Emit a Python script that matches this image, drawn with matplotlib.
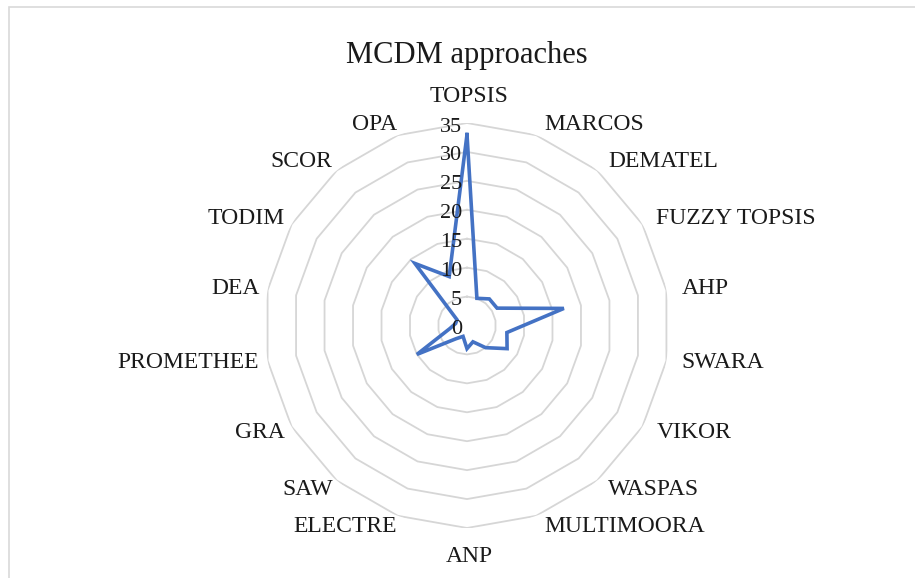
import numpy as np
import matplotlib
matplotlib.use('Agg')
import matplotlib.pyplot as plt
from matplotlib.patches import Rectangle

categories = ["TOPSIS", "MARCOS", "DEMATEL", "FUZZY TOPSIS", "AHP", "SWARA",
              "VIKOR", "WASPAS", "MULTIMOORA", "ANP", "ELECTRE", "SAW", "GRA",
              "PROMETHEE", "DEA", "TODIM", "SCOR", "OPA"]
values = [33, 5, 6, 6, 17, 7, 8, 5, 3, 4, 2, 3, 10, 3, 2, 2, 14, 9]
ring_levels = [0, 5, 10, 15, 20, 25, 30, 35]
title = "MCDM approaches"

plt.rcParams['font.family'] = ['Liberation Serif', 'DejaVu Serif']

W, H = 915, 578
fig = plt.figure(figsize=(W / 100, H / 100), dpi=100)
fig.patch.set_facecolor('white')

cx, cy, R = 467, 325.5, 202.5
ax = fig.add_axes([(cx - R) / W, (H - cy - R) / H, 2 * R / W, 2 * R / H], projection='polar')
n = len(categories)
theta = np.linspace(0, 2 * np.pi, n, endpoint=False)
ax.set_theta_zero_location('N')
ax.set_theta_direction(-1)
ax.set_ylim(0, ring_levels[-1])
ax.grid(False)
ax.spines['polar'].set_visible(False)
ax.set_xticks([])
ax.set_yticks([])
ax.patch.set_alpha(0)

closed = np.append(theta, theta[0])
for lv in ring_levels[1:]:
    ax.plot(closed, [lv] * (n + 1), color='#d6d6d6', lw=1.3, zorder=1)
ax.plot(closed, values + [values[0]], color='#4472C4', lw=2.6, zorder=3,
        solid_joinstyle='miter')

txt_color = '#1a1a1a'
for t, lab in zip(theta, categories):
    s, c = np.sin(t), np.cos(t)
    if abs(s) < 0.01:
        ha = 'center'
        dx = 2
        dy = 26 if c > 0 else -29
    else:
        ha = 'left' if s > 0 else 'right'
        dx = 12 * s + 3.5
        dy = 11 * c
    ax.annotate(lab, xy=(t, ring_levels[-1]), xytext=(dx, dy), textcoords='offset pixels',
                ha=ha, va='center', fontsize=17, color=txt_color, annotation_clip=False)

for lv in ring_levels:
    ax.annotate(str(lv), xy=(0, lv), xytext=(-5, -4), textcoords='offset pixels',
                ha='right', va='center', fontsize=16, color=txt_color, annotation_clip=False)

fig.text(cx / W, 1 - 63 / H, title, ha='center', va='baseline', fontsize=22, color=txt_color)

fig.patches.append(Rectangle((9 / W, -0.02), 1.0, 1 - 7 / H + 0.02, transform=fig.transFigure,
                             fill=False, edgecolor='#d9d9d9', lw=1.2))

fig.savefig('out.png', dpi=100)
